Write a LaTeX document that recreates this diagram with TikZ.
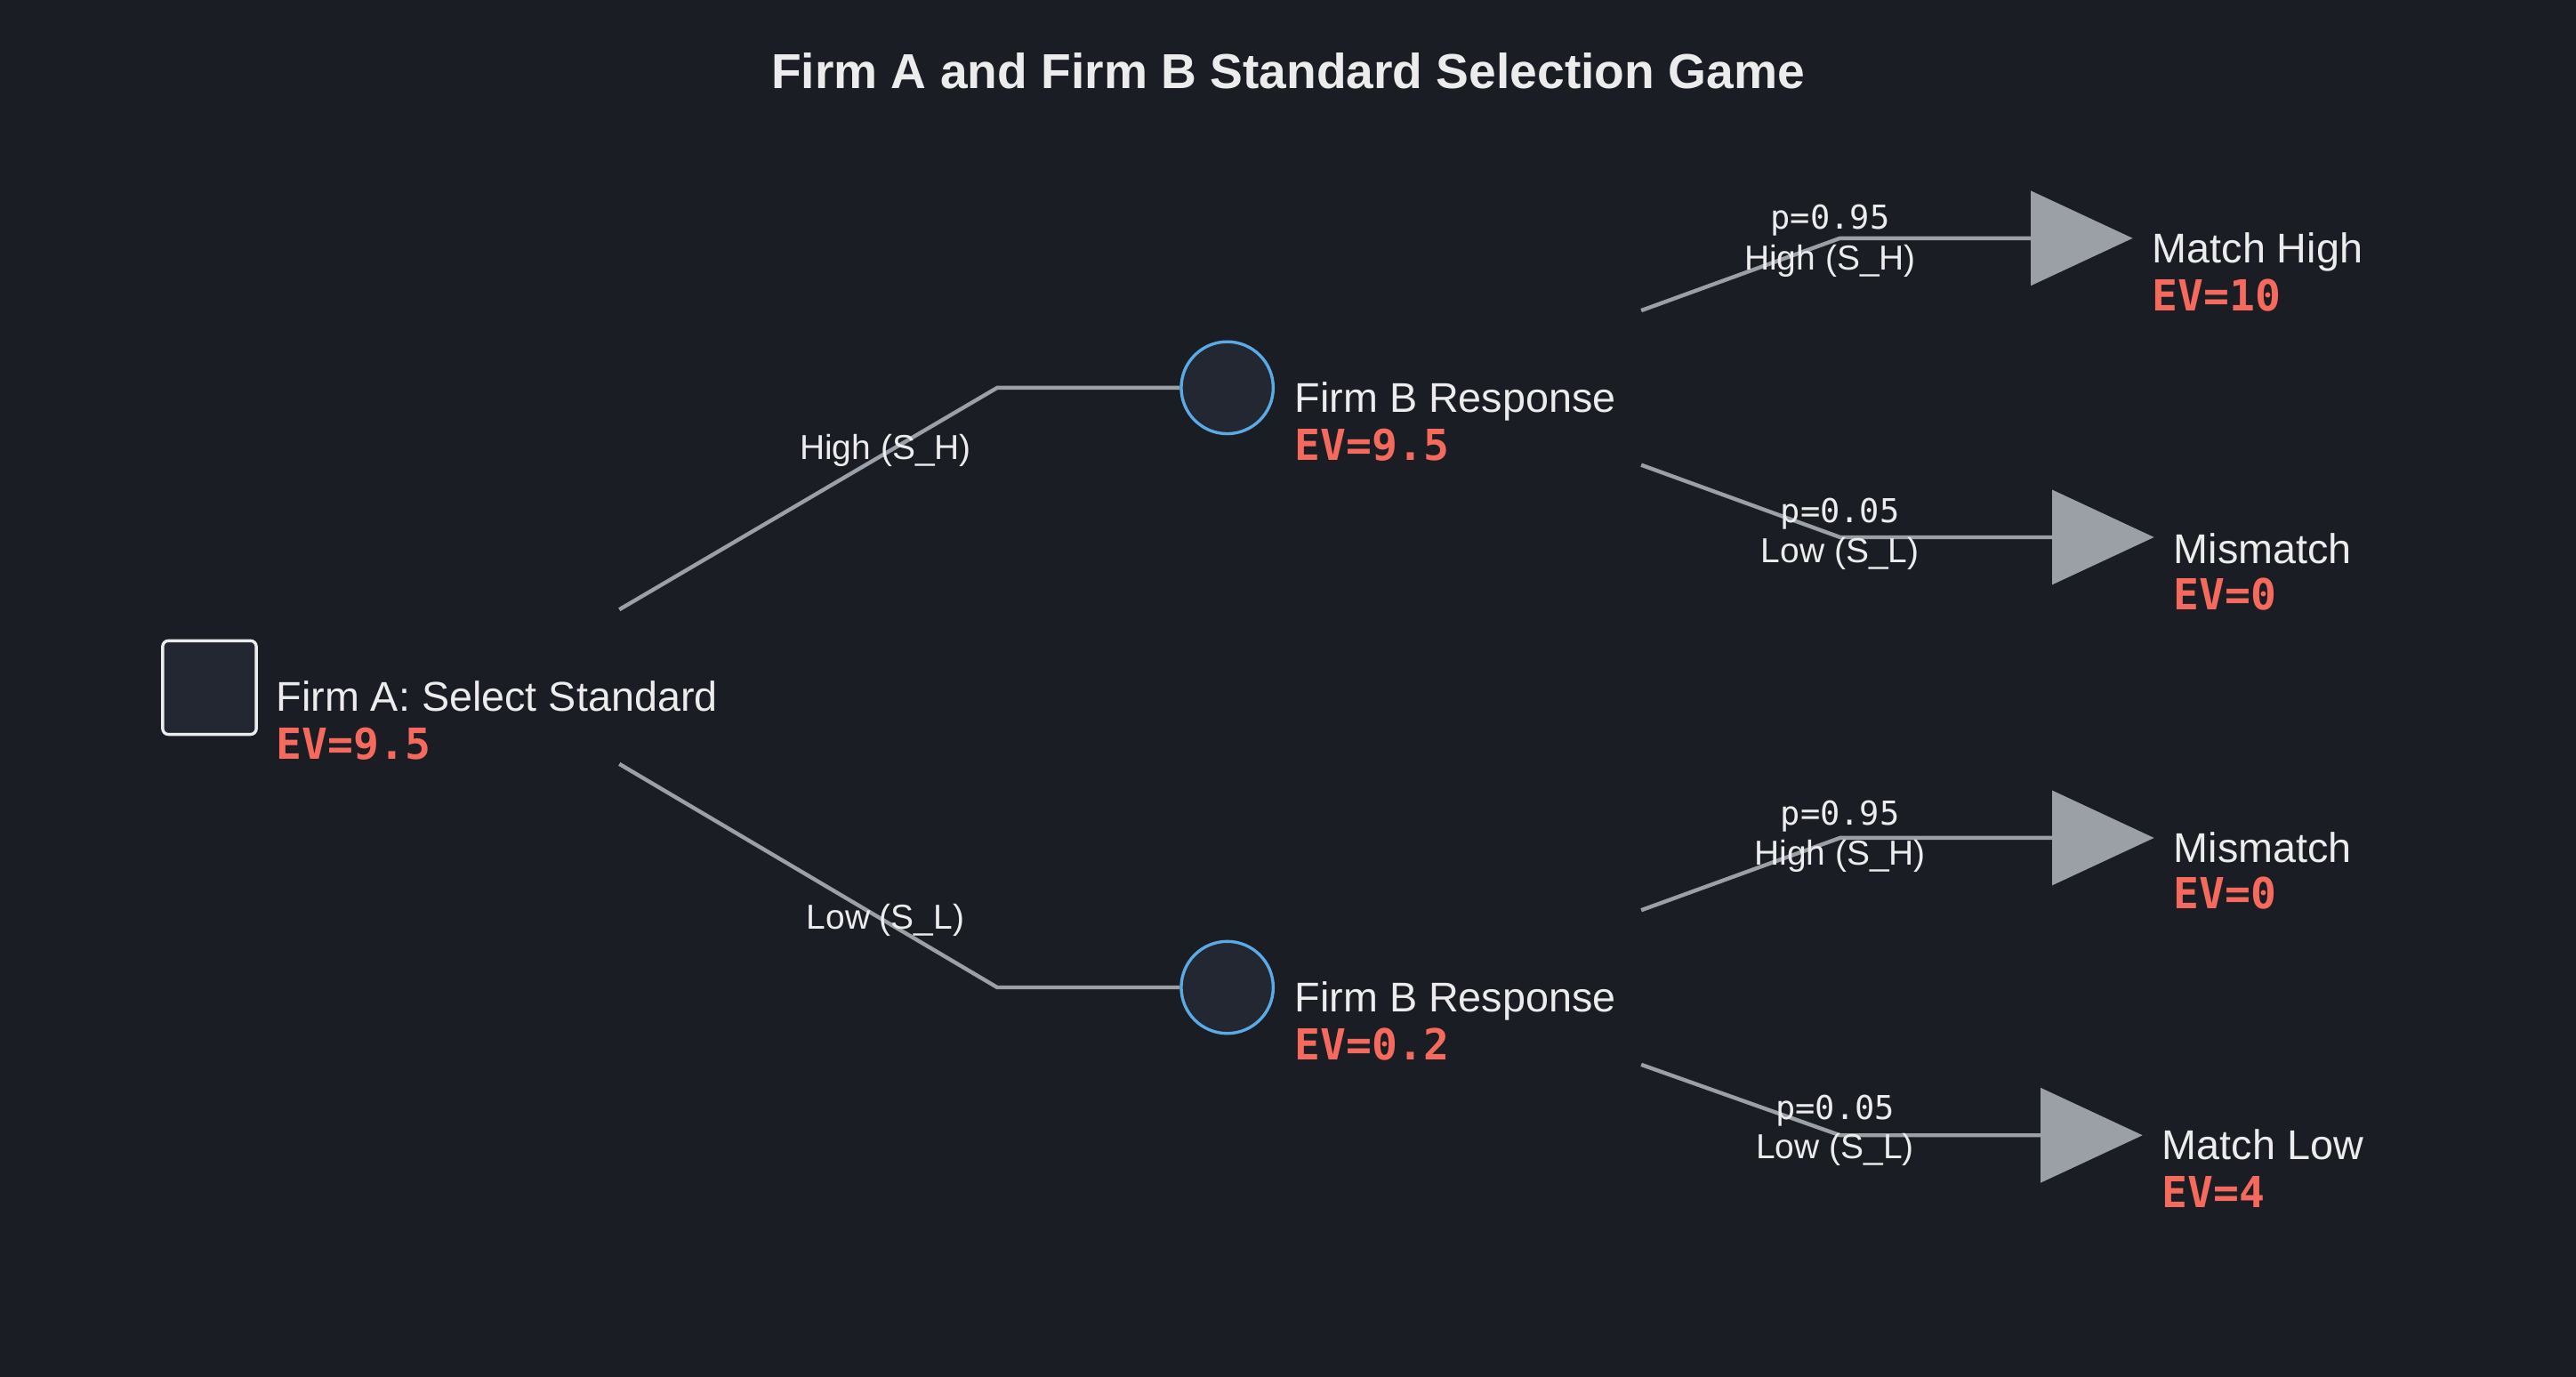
\documentclass[tikz,border=0pt]{standalone}
\usepackage{fontspec}
\setmainfont{Liberation Sans}
\newfontfamily\monof{DejaVu Sans Mono}
\usetikzlibrary{shapes.geometric}
\definecolor{bg}{HTML}{1A1D24}
\definecolor{nodefill}{HTML}{222731}
\definecolor{edge}{HTML}{9AA0A6}
\definecolor{txtc}{HTML}{ECECEC}
\definecolor{evc}{HTML}{F56A5C}
\definecolor{chance}{HTML}{5AAAE6}
\begin{document}
\begin{tikzpicture}[x=0.05cm,y=-0.05cm,
  edgeline/.style={draw=edge,line width=3.4pt},
  lbl/.style={text=txtc,font=\fontsize{30}{32}\selectfont,inner sep=0pt},
  plbl/.style={text=txtc,font=\monof\fontsize{28.5}{30}\selectfont,inner sep=0pt},
  nmtext/.style={text=txtc,font=\fontsize{36}{38}\selectfont,anchor=base west,inner sep=0pt},
  evl/.style={text=evc,font=\monof\bfseries\fontsize{37}{39}\selectfont,anchor=base west,inner sep=0pt},
  decision/.style={draw=txtc,fill=nodefill,line width=2.6pt,rounded corners=5pt,minimum size=2.85cm,inner sep=0pt},
  chancen/.style={circle,draw=chance,fill=nodefill,line width=2.6pt,minimum size=2.8cm,inner sep=0pt},
  term/.style={isosceles triangle,isosceles triangle apex angle=50,fill=edge,minimum height=3.1cm,inner sep=0pt,anchor=west}]
\fill[bg] (0,0) rectangle (1568,838);
\useasboundingbox (0,0) rectangle (1568,838);
\node[text=txtc,font=\bfseries\fontsize{42.5}{44}\selectfont] (title) at (784,43) {Firm A and Firm B Standard Selection Game};
% root
\node[decision] (A) at (127.5,418.5) {};
\node[nmtext] (An) at (168,433) {Firm A: Select Standard};
\node[evl] (Ae) at (168,462) {EV=9.5};
\coordinate (a1) at (377,371);
\coordinate (a2) at (377,465);
\coordinate (k1) at (607,236);
\coordinate (k2) at (607,601);
\node[chancen] (B1) at (747,236) {};
\node[chancen] (B2) at (747,601) {};
\draw[edgeline] (a1) -- (k1) -- (B1.west);
\draw[edgeline] (a2) -- (k2) -- (B2.west);
\node[lbl] (l1) at (539,274) {High (S\_H)};
\node[lbl] (l2) at (539,560) {Low (S\_L)};
\node[nmtext] (B1n) at (788,251) {Firm B Response};
\node[evl] (B1e) at (788,280) {EV=9.5};
\node[nmtext] (B2n) at (788,616) {Firm B Response};
\node[evl] (B2e) at (788,645) {EV=0.2};
% terminals
\node[term] (T1) at (1236,145) {};
\node[term] (T2) at (1249,327) {};
\node[term] (T3) at (1249,510) {};
\node[term] (T4) at (1242,691) {};
\coordinate (s1) at (999,189);
\coordinate (s2) at (999,283);
\coordinate (s3) at (999,554);
\coordinate (s4) at (999,648);
\coordinate (m1) at (1120,145);
\coordinate (m2) at (1120,327);
\coordinate (m3) at (1120,510);
\coordinate (m4) at (1120,691);
\draw[edgeline] (s1) -- (m1) -- (T1.west);
\draw[edgeline] (s2) -- (m2) -- (T2.west);
\draw[edgeline] (s3) -- (m3) -- (T3.west);
\draw[edgeline] (s4) -- (m4) -- (T4.west);
\node[plbl] (p1) at (1114,134) {p=0.95};
\node[lbl] (q1) at (1114,159) {High (S\_H)};
\node[plbl] (p2) at (1120,313) {p=0.05};
\node[lbl] (q2) at (1120,337) {Low (S\_L)};
\node[plbl] (p3) at (1120,497) {p=0.95};
\node[lbl] (q3) at (1120,521) {High (S\_H)};
\node[plbl] (p4) at (1117,676) {p=0.05};
\node[lbl] (q4) at (1117,700) {Low (S\_L)};
\node[nmtext] (T1n) at (1310,160) {Match High};
\node[evl] (T1e) at (1310,189) {EV=10};
\node[nmtext] (T2n) at (1323,343) {Mismatch};
\node[evl] (T2e) at (1323,371) {EV=0};
\node[nmtext] (T3n) at (1323,525) {Mismatch};
\node[evl] (T3e) at (1323,553) {EV=0};
\node[nmtext] (T4n) at (1316,706) {Match Low};
\node[evl] (T4e) at (1316,735) {EV=4};
\end{tikzpicture}
\end{document}
